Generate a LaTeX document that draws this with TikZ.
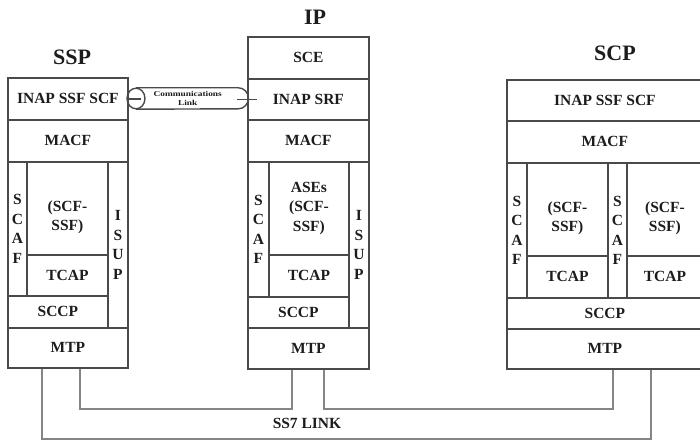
\documentclass[tikz,border=0pt]{standalone}
\usepackage{fontspec}
\usepackage{graphicx}
\setmainfont{Liberation Serif}
\definecolor{boxline}{HTML}{4A4A4A}
\definecolor{linkline}{HTML}{858585}
\definecolor{ink}{HTML}{1C1C1C}
\tikzset{
  cell/.style={draw=boxline, line width=1.8pt, anchor=north west, inner sep=0pt,
    font=\fontsize{15.5}{19.5}\selectfont\bfseries, text=ink, align=center},
  celltext/.style={inner sep=0pt, font=\fontsize{15.5}{19.5}\selectfont\bfseries,
    text=ink, align=center},
  title/.style={font=\fontsize{22}{24}\selectfont\bfseries, text=ink, inner sep=0pt},
  ss7/.style={draw=linkline, line width=1.5pt},
  pipe/.style={draw=boxline, line width=1.4pt}
}
\begin{document}
\begin{tikzpicture}[x=1pt, y=-1pt]
\useasboundingbox (0,0) rectangle (700,441);

% ---------- SSP stack ----------
\node[title] (ssp-title) at (72,57) {SSP};
\node[cell, minimum width=120pt, minimum height=42pt] (ssp-inap) at (7,77) {INAP SSF SCF};
\node[cell, minimum width=120pt, minimum height=42pt] (ssp-macf) at (7,119) {MACF};
\node[cell, minimum width=19pt, minimum height=134pt] (ssp-scaf) at (7,161) {S\\C\\A\\F};
\node[cell, minimum width=81pt, minimum height=93pt] (ssp-ase) at (26,161) {};
\node[celltext] (ssp-ase-txt) at ([yshift=-9pt]ssp-ase.center) {(SCF-\\SSF)};
\node[cell, minimum width=81pt, minimum height=41pt] (ssp-tcap) at (26,254) {TCAP};
\node[cell, minimum width=20pt, minimum height=166pt] (ssp-isup) at (107,161) {I\\S\\U\\P};
\node[cell, minimum width=100pt, minimum height=32pt] (ssp-sccp) at (7,295) {SCCP};
\node[cell, minimum width=120pt, minimum height=40pt] (ssp-mtp) at (7,327) {MTP};

% ---------- IP stack ----------
\node[title] (ip-title) at (315,17) {IP};
\node[cell, minimum width=121pt, minimum height=42pt] (ip-sce) at (247,36) {SCE};
\node[cell, minimum width=121pt, minimum height=41pt] (ip-inap) at (247,78) {INAP SRF};
\node[cell, minimum width=121pt, minimum height=42pt] (ip-macf) at (247,119) {MACF};
\node[cell, minimum width=21pt, minimum height=135pt] (ip-scaf) at (247,161) {S\\C\\A\\F};
\node[cell, minimum width=80pt, minimum height=93pt] (ip-ase) at (268,161) {ASEs\\(SCF-\\SSF)};
\node[cell, minimum width=80pt, minimum height=42pt] (ip-tcap) at (268,254) {TCAP};
\node[cell, minimum width=20pt, minimum height=166pt] (ip-isup) at (348,161) {I\\S\\U\\P};
\node[cell, minimum width=101pt, minimum height=31pt] (ip-sccp) at (247,296) {SCCP};
\node[cell, minimum width=121pt, minimum height=41pt] (ip-mtp) at (247,327) {MTP};

% ---------- SCP stack ----------
\node[title] (scp-title) at (615,53) {SCP};
\node[cell, minimum width=196pt, minimum height=41pt] (scp-inap) at (506,79) {INAP SSF SCF};
\node[cell, minimum width=196pt, minimum height=42pt] (scp-macf) at (506,120) {MACF};
\node[cell, minimum width=20pt, minimum height=135pt] (scp-scaf1) at (506,162) {S\\C\\A\\F};
\node[cell, minimum width=81pt, minimum height=93pt] (scp-ase1) at (526,162) {};
\node[celltext] (scp-ase1-txt) at ([yshift=-9pt]scp-ase1.center) {(SCF-\\SSF)};
\node[cell, minimum width=81pt, minimum height=42pt] (scp-tcap1) at (526,255) {TCAP};
\node[cell, minimum width=19pt, minimum height=135pt] (scp-scaf2) at (607,162) {S\\C\\A\\F};
\node[cell, minimum width=76pt, minimum height=93pt] (scp-ase2) at (626,162) {};
\node[celltext] (scp-ase2-txt) at ([yshift=-9pt]scp-ase2.center) {(SCF-\\SSF)};
\node[cell, minimum width=76pt, minimum height=42pt] (scp-tcap2) at (626,255) {TCAP};
\node[cell, minimum width=196pt, minimum height=31pt] (scp-sccp) at (506,297) {SCCP};
\node[cell, minimum width=196pt, minimum height=40pt] (scp-mtp) at (506,328) {MTP};

% ---------- communications link between SSP and IP ----------
\node[inner sep=0pt, minimum width=121pt, minimum height=21pt, anchor=west,
      font=\fontsize{7.5}{8.5}\selectfont\bfseries, text=ink, align=center]
  (comm) at (127,98.5) {\scalebox{1.25}[1]{Communications}\\\scalebox{1.25}[1]{Link}};
\draw[pipe] ([xshift=9pt]comm.west) ellipse [x radius=9pt, y radius=10.3pt];
\draw[pipe] ([xshift=9pt]comm.north west) -- ([xshift=-10pt]comm.north east)
  arc[start angle=90, end angle=-90, x radius=10pt, y radius=10.5pt]
  -- ([xshift=9pt]comm.south west);
\draw[pipe] (ssp-inap.east) -- ([xshift=12pt]ssp-inap.east);
\draw[pipe] ([xshift=-10pt]ip-inap.west) -- ([xshift=10pt]ip-inap.west);

% ---------- SS7 links ----------
\draw[ss7] ([xshift=35pt]ssp-mtp.south west) -- ++(0,70) -| ([xshift=145pt]scp-mtp.south west);
\draw[ss7] ([xshift=73pt]ssp-mtp.south west) -- ++(0,40) -| ([xshift=45pt]ip-mtp.south west);
\draw[ss7] ([xshift=77pt]ip-mtp.south west) -- ++(0,39) -| ([xshift=107pt]scp-mtp.south west);
\node[celltext] (ss7-label) at (307,423) {SS7 LINK};
\end{tikzpicture}
\end{document}
